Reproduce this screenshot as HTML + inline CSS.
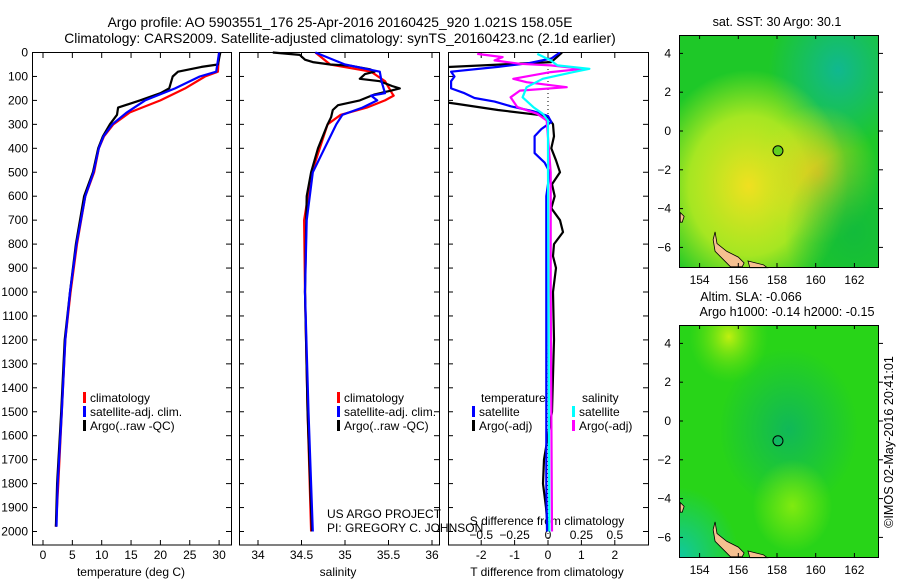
<!DOCTYPE html>
<html><head><meta charset="utf-8">
<style>
html,body{margin:0;padding:0;background:#fff;}
svg{display:block;font-family:"Liberation Sans",sans-serif;}
text{font-size:12px;fill:#000;}
.big{font-size:13.8px;}
.mt{font-size:12.6px;}
</style></head>
<body>
<svg id="c" width="900" height="580" viewBox="0 0 900 580">
<defs>
<radialGradient id="sstY1" cx="0.35" cy="0.65" r="0.5"><stop offset="0" stop-color="#f0e020"/><stop offset="0.6" stop-color="#c8ee20" stop-opacity="0.8"/><stop offset="1" stop-color="#c8ee20" stop-opacity="0"/></radialGradient>
<radialGradient id="sstY2" cx="0.7" cy="0.6" r="0.3"><stop offset="0" stop-color="#f0c020" stop-opacity="0.8"/><stop offset="1" stop-color="#e0e020" stop-opacity="0"/></radialGradient>
<radialGradient id="sstT" cx="0.8" cy="0.15" r="0.35"><stop offset="0" stop-color="#10b890"/><stop offset="1" stop-color="#10b890" stop-opacity="0"/></radialGradient>
<radialGradient id="sstG" cx="0.88" cy="0.85" r="0.35"><stop offset="0" stop-color="#10b840" stop-opacity="0.8"/><stop offset="1" stop-color="#10b840" stop-opacity="0"/></radialGradient>
<radialGradient id="slaY1" cx="0.25" cy="0.05" r="0.2"><stop offset="0" stop-color="#c0f010"/><stop offset="1" stop-color="#60e010" stop-opacity="0"/></radialGradient>
<radialGradient id="slaY2" cx="0.57" cy="0.78" r="0.2"><stop offset="0" stop-color="#80ea10"/><stop offset="1" stop-color="#80ea10" stop-opacity="0"/></radialGradient>
<radialGradient id="slaT1" cx="0" cy="1" r="0.3"><stop offset="0" stop-color="#10c8a0"/><stop offset="1" stop-color="#10c8a0" stop-opacity="0"/></radialGradient>
<radialGradient id="slaT2" cx="0.55" cy="0.45" r="0.35"><stop offset="0" stop-color="#10b858"/><stop offset="1" stop-color="#10b858" stop-opacity="0"/></radialGradient>
</defs>
<g id="g"></g>
</svg>
<script>
// ---------- data ----------
const tDepth = [0,50,60,80,100,150,170,200,230,260,300,350,400,500,600,800,1000,1200,1500,1800,1980];
const tArgo  = [30.2,29.8,27,23,22.1,21.5,20,16.5,12.8,12.6,11.4,10.2,9.4,8.5,7,5.6,4.6,3.7,3.1,2.4,2.2];
const tClimDepth = [0,80,100,150,200,250,300,350,400,500,600,800,1000,1200,1500,1800,1980];
const tClim = [30,29.8,27.6,24.2,20,14.8,12,10.4,9.5,8.7,7.2,5.8,4.7,3.8,3.2,2.6,2.2];
const tSat  = [30,29.5,26.7,22.5,17.4,14.3,11.8,10.3,9.5,8.6,7.2,5.7,4.6,3.8,3.2,2.5,2.3];
const sDepth = [0,10,30,40,50,55,70,80,90,110,120,140,150,160,175,200,220,240,270,300,400,500,600,1000,1500,2000];
const sArgo  = [34.17,34.48,34.54,34.63,34.83,35.06,35.29,35.34,35.23,35.17,35.4,35.54,35.63,35.52,35.34,35.17,34.92,34.86,34.84,34.8,34.69,34.61,34.56,34.54,34.57,34.62];
const sClimDepth = [0,50,80,120,170,180,200,230,260,300,500,700,1000,1500,2000];
const sClim = [34.66,34.83,35.3,35.46,35.54,35.56,35.46,35.25,34.95,34.8,34.62,34.53,34.54,34.57,34.61];
const sSat  = [34.66,35.0,35.4,35.42,35.46,35.3,35.37,35.2,34.97,34.9,34.63,34.56,34.54,34.58,34.63];
const dTArgoDepth = [0,40,62,100,150,205,215,240,260,270,300,350,400,450,500,550,600,650,700,750,800,850,900,1000,1200,1500,1700,1800,1900,2000];
const dTArgo = [0.42,0.1,-3.2,-3.2,-3.2,-3.2,-2.7,-1.5,-0.3,0,0.15,0.18,0.1,0.24,0.36,0.12,0.2,0.1,0.36,0.45,0.18,0.15,0.24,0.15,0.18,0.12,-0.12,-0.15,-0.06,0];
const dTSatDepth = [0,25,45,60,80,100,120,150,170,190,205,225,245,265,290,320,350,420,460,500,600,1000,1800,2000];
const dTSat = [0.36,0.1,-0.6,-1.5,-2.9,-2.8,-2.9,-2.9,-2.5,-2.2,-1.6,-1.1,-0.45,0,0.1,-0.2,-0.4,-0.4,-0.1,0.05,-0.05,-0.05,-0.05,-0.03];
const dSArgoDepth = [6,19,33,47,54,68,82,110,124,145,159,187,228,256,284,500,1000,2000];
const dSArgo = [-0.53,-0.34,-0.4,-0.21,0.02,0.26,0.02,-0.26,-0.16,0.14,-0.21,-0.28,-0.23,-0.08,-0.01,0.02,0.02,0.03];
const dSSatDepth = [6,33,54,68,82,110,145,187,228,256,284,500,2000];
const dSSat = [-0.08,0.02,0.07,0.31,0.19,-0.04,-0.16,-0.19,-0.11,-0.04,0,0,0.01];
const depthTicks = [0,100,200,300,400,500,600,700,800,900,1000,1100,1200,1300,1400,1500,1600,1700,1800,1900,2000];
const tTicks = [0,5,10,15,20,25,30];
const sTicks = [34,34.5,35,35.5,36];
const dTTicks = [-2,-1,0,1,2];
const dSTicks = [-0.5,-0.25,0,0.25,0.5];
const lonTicks = [154,156,158,160,162];
const latTicks = [4,2,0,-2,-4,-6];
const argoLon = 158.05, argoLat = -1.021;

// ---------- helpers ----------
const NS='http://www.w3.org/2000/svg';
const G=document.getElementById('g');
function el(tag,attrs,parent){const e=document.createElementNS(NS,tag);for(const k in attrs)e.setAttribute(k,attrs[k]);(parent||G).appendChild(e);return e;}
function txt(x,y,s,anchor,parent){const t=el('text',{x:x,y:y,'text-anchor':anchor||'start'},parent);t.textContent=s;return t;}
const yD = d => 52.5 + d*0.2395;
const PB = 545;
const xT = v => 43 + v*5.87;
const xS = v => 258 + (v-34)*87;
const xdT = v => 548 + v*33.4;
const xdS = v => 548 + v*133.6;

function line(depths, vals, sx, color, name, clip){
  const p = el('polyline',{points:depths.map((d,i)=>sx(vals[i]).toFixed(1)+','+yD(d).toFixed(1)).join(' '),fill:'none',stroke:color,'stroke-width':2.2,'stroke-linejoin':'round'});
  if(clip) p.setAttribute('clip-path','url(#'+clip+')');
  
  
}
function frame(x0,x1,name){
  const r=el('rect',{x:x0+0.5,y:52.5,width:x1-x0,height:PB-52.5,fill:'none',stroke:'#000','stroke-width':1});
  
  
  depthTicks.forEach(d=>{el('line',{x1:x0,x2:x0+5,y1:yD(d),y2:yD(d),stroke:'#000'});el('line',{x1:x1-5,x2:x1,y1:yD(d),y2:yD(d),stroke:'#000'});});
}
function xticks(ticks,sx,labelY,top){
  ticks.forEach(v=>{const x=sx(v);el('line',{x1:x,x2:x,y1:PB,y2:PB-5,stroke:'#000'}); if(top) el('line',{x1:x,x2:x,y1:53,y2:58,stroke:'#000'}); const t=txt(x,labelY,String(v),'middle');  });
}
function legendEntry(x,y,color,label){
  el('rect',{x:x,y:y-10,width:3,height:11,fill:color});
  const t=txt(x+7,y,label);  
}

const defs=document.querySelector('defs');
const cp=el('clipPath',{id:'cp3'},defs); el('rect',{x:448,y:52,width:201,height:494},cp);

// ---------- titles ----------
let tt=txt(340,27,'Argo profile: AO 5903551_176 25-Apr-2016 20160425_920 1.021S 158.05E','middle'); tt.setAttribute('class','big');  
tt=txt(340,43,'Climatology: CARS2009. Satellite-adjusted climatology: synTS_20160423.nc (2.1d earlier)','middle'); tt.setAttribute('class','big');  

// ---------- panel 1 ----------
frame(32,231,'temperature-panel');
depthTicks.forEach(d=>{const t=txt(28,yD(d)+4,String(d),'end');  });
xticks(tTicks,xT,559,true);
txt(131,576,'temperature (deg C)','middle');
line(tClimDepth,tClim,xT,'#ff0000','temp-climatology-line');
line(tDepth,tArgo,xT,'#000000','temp-argo-line');
line(tClimDepth,tSat,xT,'#0000ff','temp-satellite-line');
legendEntry(83,402,'#ff0000','climatology');
legendEntry(83,416,'#0000ff','satellite-adj. clim.');
legendEntry(83,430,'#000000','Argo(..raw -QC)');

// ---------- panel 2 ----------
frame(239,439,'salinity-panel');
xticks(sTicks,xS,559,true);
txt(338,576,'salinity','middle');
line(sClimDepth,sClim,xS,'#ff0000','sal-climatology-line');
line(sDepth,sArgo,xS,'#000000','sal-argo-line');
line(sClimDepth,sSat,xS,'#0000ff','sal-satellite-line');
legendEntry(337,402,'#ff0000','climatology');
legendEntry(337,416,'#0000ff','satellite-adj. clim.');
legendEntry(337,430,'#000000','Argo(..raw -QC)');
txt(327,518,'US ARGO PROJECT');
txt(327,532,'PI: GREGORY C. JOHNSON');

// ---------- panel 3 ----------
frame(448,648,'difference-panel');
el('line',{x1:548,x2:548,y1:53,y2:PB,stroke:'#000','stroke-dasharray':'1,3'});
xticks(dTTicks,xdT,559,true);
dSTicks.forEach(v=>{const t=txt(xdS(v),539,String(v).replace('-','\u2212'),'middle');  });
txt(547,525,'S difference from climatology','middle');
txt(547,576,'T difference from climatology','middle');
line(dTArgoDepth,dTArgo,xdT,'#000000','dT-argo-line','cp3');
line(dTSatDepth,dTSat,xdT,'#0000ff','dT-satellite-line','cp3');
line(dSArgoDepth,dSArgo,xdS,'#ff00ff','dS-argo-line','cp3');
line(dSSatDepth,dSSat,xdS,'#00ffff','dS-satellite-line','cp3');
txt(481,402,'temperature');
txt(582,402,'salinity');
legendEntry(472,416,'#0000ff','satellite');
legendEntry(472,430,'#000000','Argo(-adj)');
legendEntry(572,416,'#00ffff','satellite');
legendEntry(572,430,'#ff00ff','Argo(-adj)');

// ---------- maps ----------
function map(y0,kind){
  const x0=679,x1=878,h=232;
  const lx = lon => 777 + (lon-158)*19.35;
  const ly = lat => y0+96 - lat*19.4;
  const g=el('g',{});
  
  
  const fills = kind==='sst' ? ['#1ec828','url(#sstT)','url(#sstY1)','url(#sstY2)','url(#sstG)'] : ['#28d418','url(#slaT2)','url(#slaY1)','url(#slaY2)','url(#slaT1)'];
  fills.forEach(f=>el('rect',{x:x0,y:y0,width:x1-x0,height:h,fill:f},g));
  el('polygon',{points:[[154.8,-5.2],[154.9,-5.8],[155.4,-6.2],[156,-6.5],[156.3,-6.8],[156.2,-7],[155.6,-7],[155.2,-6.6],[154.8,-6.2],[154.7,-5.6]].map(p=>lx(p[0])+','+ly(p[1])).join(' '),fill:'#f5c090',stroke:'#000','stroke-width':0.8},g);
  el('polygon',{points:[[156.5,-6.7],[157.3,-6.9],[157.5,-7.05],[156.6,-7.05]].map(p=>lx(p[0])+','+ly(p[1])).join(' '),fill:'#f5c090',stroke:'#000','stroke-width':0.8},g);
  el('polygon',{points:[[153,-4.2],[153.2,-4.4],[153.1,-4.7],[153,-4.7]].map(p=>lx(p[0])+','+ly(p[1])).join(' '),fill:'#f5c090',stroke:'#000','stroke-width':0.8},g);
  const c=el('circle',{cx:lx(argoLon),cy:ly(argoLat),r:5,fill:kind==='sst'?'#60d020':'#10b860',stroke:'#000','stroke-width':1},g);
  
  
  el('rect',{x:x0+0.5,y:y0+0.5,width:x1-x0,height:h,fill:'none',stroke:'#000'},g);
  lonTicks.forEach(v=>{const x=lx(v);el('line',{x1:x,x2:x,y1:y0,y2:y0+4,stroke:'#000'});el('line',{x1:x,x2:x,y1:y0+h,y2:y0+h-4,stroke:'#000'}); const t=txt(x,y0+h+17,String(v),'middle');  });
  latTicks.forEach(v=>{const y=ly(v);el('line',{x1:x0,x2:x0+4,y1:y,y2:y,stroke:'#000'});el('line',{x1:x1+1,x2:x1+5,y1:y,y2:y,stroke:'#000'}); const t=txt(x0-8,y+4,String(v).replace('-','\u2212'),'end');  });
}
map(35,'sst');
map(325,'sla');
tt=txt(777,26,'sat. SST: 30 Argo: 30.1','middle'); tt.setAttribute('class','mt'); 
tt=txt(751,301,'Altim. SLA: -0.066','middle'); tt.setAttribute('class','mt'); 
tt=txt(787,316,'Argo h1000: -0.14 h2000: -0.15','middle'); tt.setAttribute('class','mt'); 
const ts=txt(0,0,'©IMOS 02-May-2016 20:41:01','middle');
ts.setAttribute('transform','translate(893,442) rotate(-90)');
ts.setAttribute('class','mt');

</script>
</body></html>
